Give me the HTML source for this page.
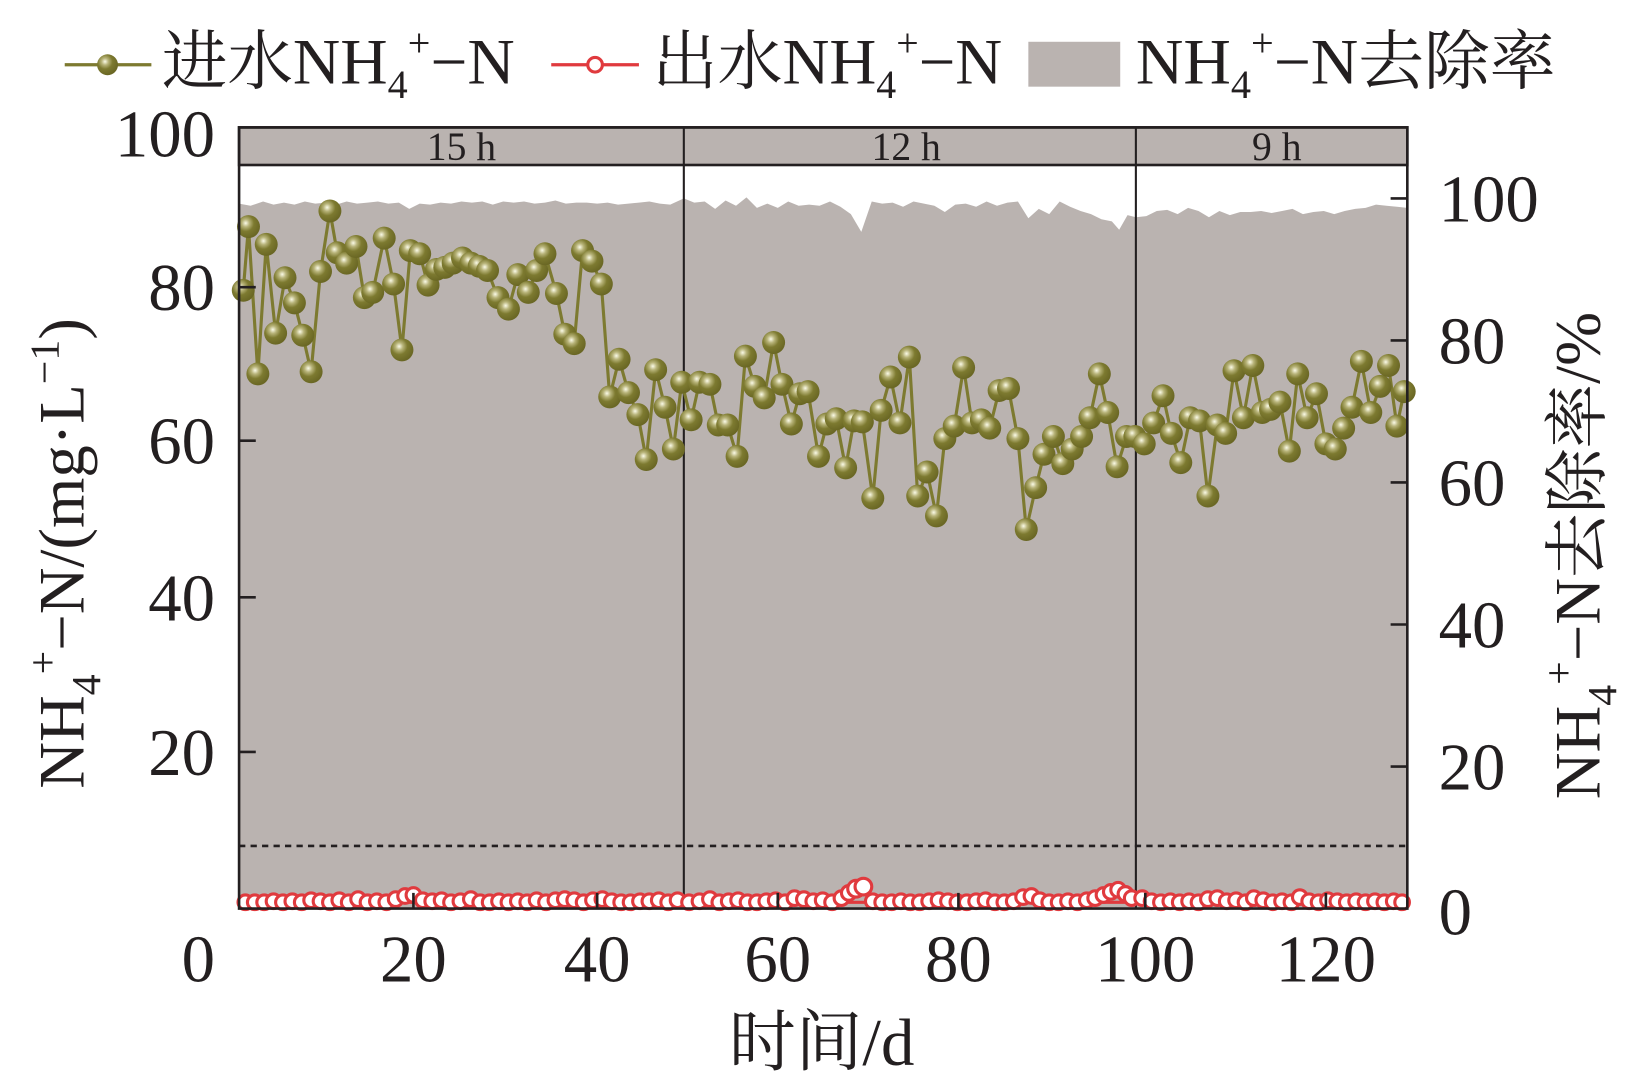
<!DOCTYPE html>
<html><head><meta charset="utf-8"><style>
html,body{margin:0;padding:0;background:#fff;}
svg{display:block;}
text{font-family:"Liberation Serif","Noto Serif CJK SC",serif;fill:#231f20;}
</style></head><body>
<svg width="1637" height="1084" viewBox="0 0 1568 1038" preserveAspectRatio="none" xmlns="http://www.w3.org/2000/svg">
<defs>
<radialGradient id="b" cx="0.38" cy="0.35" r="0.65">
<stop offset="0" stop-color="#fbfbe8"/><stop offset="0.25" stop-color="#b8b47a"/><stop offset="0.55" stop-color="#7d7a30"/><stop offset="1" stop-color="#6a6724"/>
</radialGradient>
</defs>
<!-- legend -->
<line x1="62" y1="62" x2="145" y2="62" stroke="#7d7a30" stroke-width="3"/>
<circle cx="103" cy="62" r="10" fill="url(#b)"/>
<text x="155" y="80" font-size="62" textLength="338" lengthAdjust="spacingAndGlyphs">进水NH<tspan font-size="38" dy="14">4</tspan><tspan font-size="38" dy="-40">+</tspan><tspan dy="26">−N</tspan></text>
<line x1="528" y1="62" x2="612" y2="62" stroke="#e03a3e" stroke-width="3"/>
<circle cx="570" cy="62" r="7" fill="#fff" stroke="#e03a3e" stroke-width="3"/>
<text x="625" y="80" font-size="62" textLength="335" lengthAdjust="spacingAndGlyphs">出水NH<tspan font-size="38" dy="14">4</tspan><tspan font-size="38" dy="-40">+</tspan><tspan dy="26">−N</tspan></text>
<rect x="985" y="40" width="88" height="43" fill="#bab3b0"/>
<text x="1088" y="80" font-size="62" textLength="402" lengthAdjust="spacingAndGlyphs">NH<tspan font-size="38" dy="14">4</tspan><tspan font-size="38" dy="-40">+</tspan><tspan dy="26">−N去除率</tspan></text>

<!-- removal area -->
<polygon fill="#bab3b0" points="229,870 229,195 240,197 252,193 262,196 272,194 282,196 292,193 302,195 312,194 322,196 332,193 342,195 352,194 362,193 372,195 382,194 392,200 402,195 412,196 422,194 432,195 442,193 452,194 462,193 472,196 482,193 492,194 502,193 512,195 522,194 532,192 542,195 552,194 562,194 572,195 582,194 592,196 602,195 612,194 622,193 632,195 642,196 655,190 665,194 675,193 685,200 695,192 705,197 715,189 725,199 735,195 745,199 755,193 765,197 775,196 785,197 795,193 805,198 815,205 825,222 835,193 845,195 855,194 865,198 875,193 885,195 895,197 905,203 915,196 925,195 935,198 945,193 955,197 965,194 975,193 985,209 995,200 1005,205 1015,193 1025,198 1035,202 1045,205 1055,210 1065,212 1072,220 1080,206 1088,208 1098,207 1108,202 1118,201 1128,205 1138,199 1148,202 1158,208 1168,202 1178,206 1188,203 1198,203 1208,202 1218,204 1228,202 1238,200 1248,205 1258,203 1268,202 1278,205 1288,202 1298,200 1308,199 1318,196 1328,197 1338,198 1348,199 1348,870"/>
<!-- strip -->
<rect x="229" y="122" width="1119" height="36" fill="#bab3b0" stroke="#231f20" stroke-width="2.5"/>
<text x="442" y="153" font-size="38" text-anchor="middle">15 h</text>
<text x="868" y="153" font-size="38" text-anchor="middle">12 h</text>
<text x="1223" y="153" font-size="38" text-anchor="middle">9 h</text>
<line x1="655" y1="122" x2="655" y2="870" stroke="#231f20" stroke-width="2"/>
<line x1="1088" y1="122" x2="1088" y2="870" stroke="#231f20" stroke-width="2"/>
<line x1="229" y1="810" x2="1348" y2="810" stroke="#231f20" stroke-width="2.5" stroke-dasharray="6,5"/>

<!-- effluent -->
<g fill="#fff" stroke="#e03a3e" stroke-width="3">
<polyline fill="none" points="233,864 1345,864"/>
<circle cx="235" cy="864" r="7"/><circle cx="244" cy="864" r="7"/><circle cx="253" cy="864" r="7"/><circle cx="262" cy="863" r="7"/><circle cx="271" cy="864" r="7"/><circle cx="280" cy="863" r="7"/><circle cx="289" cy="864" r="7"/><circle cx="298" cy="862" r="7"/><circle cx="307" cy="863" r="7"/><circle cx="316" cy="864" r="7"/><circle cx="325" cy="862" r="7"/><circle cx="334" cy="864" r="7"/><circle cx="343" cy="861" r="7"/><circle cx="352" cy="864" r="7"/><circle cx="361" cy="863" r="7"/><circle cx="370" cy="864" r="7"/><circle cx="379" cy="861" r="7"/><circle cx="388" cy="858" r="7"/><circle cx="396" cy="857" r="7"/><circle cx="405" cy="862" r="7"/><circle cx="414" cy="863" r="7"/><circle cx="423" cy="862" r="7"/><circle cx="432" cy="864" r="7"/><circle cx="441" cy="863" r="7"/><circle cx="451" cy="861" r="7"/><circle cx="460" cy="864" r="7"/><circle cx="469" cy="864" r="7"/><circle cx="478" cy="863" r="7"/><circle cx="487" cy="864" r="7"/><circle cx="496" cy="863" r="7"/><circle cx="505" cy="864" r="7"/><circle cx="514" cy="862" r="7"/><circle cx="523" cy="864" r="7"/><circle cx="532" cy="862" r="7"/><circle cx="541" cy="861" r="7"/><circle cx="550" cy="862" r="7"/><circle cx="559" cy="864" r="7"/><circle cx="568" cy="862" r="7"/><circle cx="577" cy="861" r="7"/><circle cx="586" cy="863" r="7"/><circle cx="595" cy="864" r="7"/><circle cx="604" cy="864" r="7"/><circle cx="613" cy="863" r="7"/><circle cx="622" cy="863" r="7"/><circle cx="631" cy="862" r="7"/><circle cx="640" cy="864" r="7"/><circle cx="649" cy="862" r="7"/>
<circle cx="660" cy="864" r="7"/><circle cx="670" cy="863" r="7"/><circle cx="680" cy="861" r="7"/><circle cx="689" cy="864" r="7"/><circle cx="698" cy="863" r="7"/><circle cx="707" cy="862" r="7"/><circle cx="716" cy="864" r="7"/><circle cx="725" cy="864" r="7"/><circle cx="734" cy="863" r="7"/><circle cx="743" cy="862" r="7"/><circle cx="752" cy="864" r="7"/><circle cx="761" cy="860" r="7"/><circle cx="770" cy="861" r="7"/><circle cx="779" cy="863" r="7"/><circle cx="788" cy="862" r="7"/><circle cx="797" cy="864" r="7"/><circle cx="806" cy="860" r="7"/><circle cx="813" cy="855" r="7"/><circle cx="820" cy="851" r="8"/><circle cx="827" cy="849" r="8"/><circle cx="836" cy="863" r="7"/><circle cx="845" cy="864" r="7"/><circle cx="854" cy="864" r="7"/><circle cx="863" cy="863" r="7"/><circle cx="872" cy="864" r="7"/><circle cx="881" cy="864" r="7"/><circle cx="890" cy="863" r="7"/><circle cx="899" cy="862" r="7"/><circle cx="908" cy="863" r="7"/><circle cx="917" cy="864" r="7"/><circle cx="926" cy="864" r="7"/><circle cx="935" cy="863" r="7"/><circle cx="944" cy="862" r="7"/><circle cx="953" cy="864" r="7"/><circle cx="962" cy="864" r="7"/><circle cx="971" cy="863" r="7"/><circle cx="980" cy="859" r="7"/><circle cx="988" cy="858" r="7"/><circle cx="996" cy="862" r="7"/><circle cx="1005" cy="864" r="7"/><circle cx="1014" cy="864" r="7"/><circle cx="1023" cy="863" r="7"/><circle cx="1032" cy="864" r="7"/><circle cx="1041" cy="862" r="7"/><circle cx="1049" cy="860" r="7"/><circle cx="1057" cy="857" r="7"/><circle cx="1064" cy="854" r="7"/><circle cx="1071" cy="852" r="7"/><circle cx="1078" cy="856" r="7"/><circle cx="1084" cy="860" r="7"/>
<circle cx="1094" cy="860" r="7"/><circle cx="1103" cy="863" r="7"/><circle cx="1112" cy="864" r="7"/><circle cx="1121" cy="863" r="7"/><circle cx="1130" cy="864" r="7"/><circle cx="1139" cy="863" r="7"/><circle cx="1148" cy="864" r="7"/><circle cx="1157" cy="861" r="7"/><circle cx="1166" cy="860" r="7"/><circle cx="1175" cy="863" r="7"/><circle cx="1184" cy="862" r="7"/><circle cx="1193" cy="864" r="7"/><circle cx="1201" cy="860" r="7"/><circle cx="1210" cy="862" r="7"/><circle cx="1219" cy="864" r="7"/><circle cx="1228" cy="863" r="7"/><circle cx="1237" cy="864" r="7"/><circle cx="1245" cy="859" r="7"/><circle cx="1254" cy="863" r="7"/><circle cx="1263" cy="864" r="7"/><circle cx="1272" cy="862" r="7"/><circle cx="1281" cy="863" r="7"/><circle cx="1290" cy="864" r="7"/><circle cx="1299" cy="863" r="7"/><circle cx="1308" cy="864" r="7"/><circle cx="1317" cy="863" r="7"/><circle cx="1326" cy="864" r="7"/><circle cx="1335" cy="863" r="7"/><circle cx="1343" cy="864" r="7"/>
</g>

<!-- influent -->
<polyline fill="none" stroke="#7d7a30" stroke-width="3" points="233,278 238,217 247,358 255,234 264,319 273,266 282,290 290,321 298,356 307,260 316,202 323,242 332,252 341,236 349,285 357,280 368,228 377,272 385,335 393,240 402,243 410,273 418,258 426,256 434,252 443,247 451,252 459,255 467,259 477,285 487,296 496,263 506,280 514,259 522,243 533,281 541,320 550,329 558,240 567,250 576,272 584,380 593,344 602,376 611,397 619,440 628,354 637,390 645,430 653,366 662,402 670,366 680,368 688,407 697,407 706,437 714,341 723,370 732,381 741,328 749,368 758,406 766,377 774,375 784,437 792,406 801,401 810,448 818,403 826,404 836,477 844,393 853,361 862,405 871,342 879,475 888,452 897,494 905,420 914,408 923,352 931,405 940,402 948,410 957,374 966,372 975,420 983,507 992,467 1000,435 1009,418 1018,444 1027,430 1036,418 1044,400 1053,358 1061,395 1070,447 1079,418 1087,418 1096,425 1105,405 1114,379 1122,415 1131,443 1140,400 1149,403 1157,475 1166,407 1174,415 1182,355 1191,400 1200,350 1209,395 1217,392 1226,385 1235,432 1243,358 1252,400 1261,377 1270,425 1279,430 1287,410 1295,390 1304,346 1313,395 1322,370 1330,350 1338,408 1345,375"/>
<g fill="url(#b)">
<circle cx="233" cy="278" r="11"/><circle cx="238" cy="217" r="11"/><circle cx="247" cy="358" r="11"/><circle cx="255" cy="234" r="11"/><circle cx="264" cy="319" r="11"/><circle cx="273" cy="266" r="11"/><circle cx="282" cy="290" r="11"/><circle cx="290" cy="321" r="11"/><circle cx="298" cy="356" r="11"/><circle cx="307" cy="260" r="11"/><circle cx="316" cy="202" r="11"/><circle cx="323" cy="242" r="11"/><circle cx="332" cy="252" r="11"/><circle cx="341" cy="236" r="11"/><circle cx="349" cy="285" r="11"/><circle cx="357" cy="280" r="11"/><circle cx="368" cy="228" r="11"/><circle cx="377" cy="272" r="11"/><circle cx="385" cy="335" r="11"/><circle cx="393" cy="240" r="11"/><circle cx="402" cy="243" r="11"/><circle cx="410" cy="273" r="11"/><circle cx="418" cy="258" r="11"/><circle cx="426" cy="256" r="11"/><circle cx="434" cy="252" r="11"/><circle cx="443" cy="247" r="11"/><circle cx="451" cy="252" r="11"/><circle cx="459" cy="255" r="11"/><circle cx="467" cy="259" r="11"/><circle cx="477" cy="285" r="11"/><circle cx="487" cy="296" r="11"/><circle cx="496" cy="263" r="11"/><circle cx="506" cy="280" r="11"/><circle cx="514" cy="259" r="11"/><circle cx="522" cy="243" r="11"/><circle cx="533" cy="281" r="11"/><circle cx="541" cy="320" r="11"/><circle cx="550" cy="329" r="11"/><circle cx="558" cy="240" r="11"/><circle cx="567" cy="250" r="11"/><circle cx="576" cy="272" r="11"/><circle cx="584" cy="380" r="11"/><circle cx="593" cy="344" r="11"/><circle cx="602" cy="376" r="11"/><circle cx="611" cy="397" r="11"/><circle cx="619" cy="440" r="11"/><circle cx="628" cy="354" r="11"/><circle cx="637" cy="390" r="11"/><circle cx="645" cy="430" r="11"/><circle cx="653" cy="366" r="11"/><circle cx="662" cy="402" r="11"/><circle cx="670" cy="366" r="11"/><circle cx="680" cy="368" r="11"/><circle cx="688" cy="407" r="11"/><circle cx="697" cy="407" r="11"/><circle cx="706" cy="437" r="11"/><circle cx="714" cy="341" r="11"/><circle cx="723" cy="370" r="11"/><circle cx="732" cy="381" r="11"/><circle cx="741" cy="328" r="11"/><circle cx="749" cy="368" r="11"/><circle cx="758" cy="406" r="11"/><circle cx="766" cy="377" r="11"/><circle cx="774" cy="375" r="11"/><circle cx="784" cy="437" r="11"/><circle cx="792" cy="406" r="11"/><circle cx="801" cy="401" r="11"/><circle cx="810" cy="448" r="11"/><circle cx="818" cy="403" r="11"/><circle cx="826" cy="404" r="11"/><circle cx="836" cy="477" r="11"/><circle cx="844" cy="393" r="11"/><circle cx="853" cy="361" r="11"/><circle cx="862" cy="405" r="11"/><circle cx="871" cy="342" r="11"/><circle cx="879" cy="475" r="11"/><circle cx="888" cy="452" r="11"/><circle cx="897" cy="494" r="11"/><circle cx="905" cy="420" r="11"/><circle cx="914" cy="408" r="11"/><circle cx="923" cy="352" r="11"/><circle cx="931" cy="405" r="11"/><circle cx="940" cy="402" r="11"/><circle cx="948" cy="410" r="11"/><circle cx="957" cy="374" r="11"/><circle cx="966" cy="372" r="11"/><circle cx="975" cy="420" r="11"/><circle cx="983" cy="507" r="11"/><circle cx="992" cy="467" r="11"/><circle cx="1000" cy="435" r="11"/><circle cx="1009" cy="418" r="11"/><circle cx="1018" cy="444" r="11"/><circle cx="1027" cy="430" r="11"/><circle cx="1036" cy="418" r="11"/><circle cx="1044" cy="400" r="11"/><circle cx="1053" cy="358" r="11"/><circle cx="1061" cy="395" r="11"/><circle cx="1070" cy="447" r="11"/><circle cx="1079" cy="418" r="11"/><circle cx="1087" cy="418" r="11"/><circle cx="1096" cy="425" r="11"/><circle cx="1105" cy="405" r="11"/><circle cx="1114" cy="379" r="11"/><circle cx="1122" cy="415" r="11"/><circle cx="1131" cy="443" r="11"/><circle cx="1140" cy="400" r="11"/><circle cx="1149" cy="403" r="11"/><circle cx="1157" cy="475" r="11"/><circle cx="1166" cy="407" r="11"/><circle cx="1174" cy="415" r="11"/><circle cx="1182" cy="355" r="11"/><circle cx="1191" cy="400" r="11"/><circle cx="1200" cy="350" r="11"/><circle cx="1209" cy="395" r="11"/><circle cx="1217" cy="392" r="11"/><circle cx="1226" cy="385" r="11"/><circle cx="1235" cy="432" r="11"/><circle cx="1243" cy="358" r="11"/><circle cx="1252" cy="400" r="11"/><circle cx="1261" cy="377" r="11"/><circle cx="1270" cy="425" r="11"/><circle cx="1279" cy="430" r="11"/><circle cx="1287" cy="410" r="11"/><circle cx="1295" cy="390" r="11"/><circle cx="1304" cy="346" r="11"/><circle cx="1313" cy="395" r="11"/><circle cx="1322" cy="370" r="11"/><circle cx="1330" cy="350" r="11"/><circle cx="1338" cy="408" r="11"/><circle cx="1345" cy="375" r="11"/>
</g>

<!-- axes frame -->
<rect x="229" y="122" width="1119" height="748" fill="none" stroke="#231f20" stroke-width="2.5"/>
<g stroke="#231f20" stroke-width="2.5">
<line x1="229" y1="275" x2="245" y2="275"/><line x1="229" y1="422" x2="245" y2="422"/><line x1="229" y1="572" x2="245" y2="572"/><line x1="229" y1="720" x2="245" y2="720"/>
<line x1="396" y1="870" x2="396" y2="855"/><line x1="572" y1="870" x2="572" y2="855"/><line x1="745" y1="870" x2="745" y2="855"/><line x1="918" y1="870" x2="918" y2="855"/><line x1="1097" y1="870" x2="1097" y2="855"/><line x1="1270" y1="870" x2="1270" y2="855"/>
<line x1="1332" y1="190" x2="1348" y2="190"/><line x1="1332" y1="326" x2="1348" y2="326"/><line x1="1332" y1="462" x2="1348" y2="462"/><line x1="1332" y1="598" x2="1348" y2="598"/><line x1="1332" y1="734" x2="1348" y2="734"/>
</g>
<g font-size="64" text-anchor="end">
<text x="206" y="150">100</text><text x="206" y="297">80</text><text x="206" y="444">60</text><text x="206" y="594">40</text><text x="206" y="742">20</text>
</g>
<g font-size="64" text-anchor="middle">
<text x="190" y="940">0</text><text x="396" y="940">20</text><text x="572" y="940">40</text><text x="745" y="940">60</text><text x="918" y="940">80</text><text x="1097" y="940">100</text><text x="1270" y="940">120</text>
</g>
<g font-size="64" text-anchor="start">
<text x="1378" y="212">100</text><text x="1378" y="348">80</text><text x="1378" y="484">60</text><text x="1378" y="620">40</text><text x="1378" y="756">20</text><text x="1378" y="895">0</text>
</g>
<text x="787" y="1020" font-size="64" text-anchor="middle">时间/d</text>
<text transform="translate(80,530) rotate(-90)" font-size="62" text-anchor="middle">NH<tspan font-size="40" dy="16">4</tspan><tspan font-size="40" dy="-42">+</tspan><tspan dy="26">−N/(mg·L</tspan><tspan font-size="40" dy="-24">−1</tspan><tspan dy="24">)</tspan></text>
<text transform="translate(1532,532) rotate(-90)" font-size="62" text-anchor="middle">NH<tspan font-size="40" dy="16">4</tspan><tspan font-size="40" dy="-42">+</tspan><tspan dy="26">−N去除率/%</tspan></text>
</svg>
</body></html>
